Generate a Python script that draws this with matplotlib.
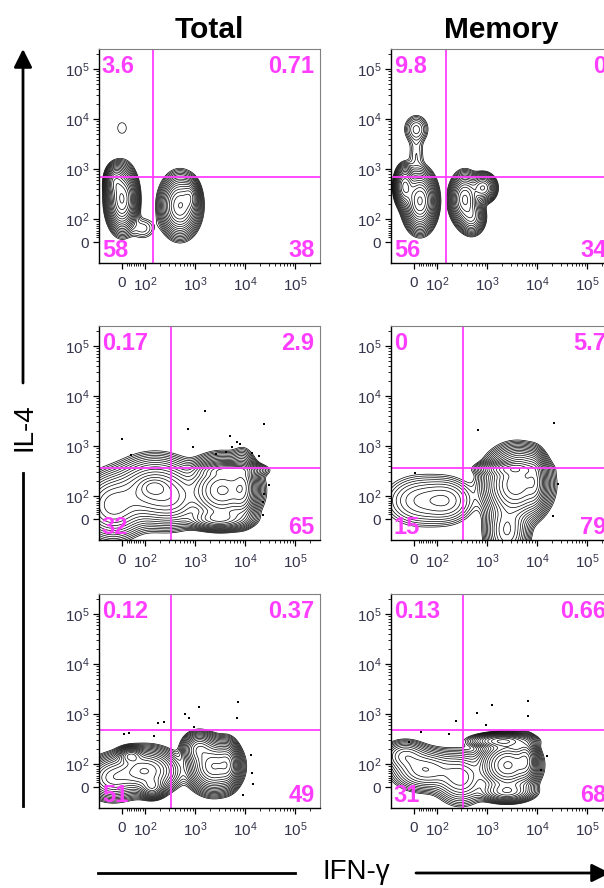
import matplotlib

matplotlib.use("Agg")

import matplotlib.pyplot as plt
import numpy as np
from matplotlib.lines import Line2D
from matplotlib.patches import FancyArrowPatch
from matplotlib.ticker import FixedFormatter, FixedLocator

plt.rcParams["font.family"] = ["Liberation Sans", "DejaVu Sans"]
plt.rcParams["mathtext.fontset"] = "custom"
plt.rcParams["mathtext.rm"] = "Liberation Sans"
plt.rcParams["mathtext.it"] = "Liberation Sans:italic"
plt.rcParams["mathtext.bf"] = "Liberation Sans:bold"

COLUMN_TITLES = ["Total", "Memory"]
X_LABEL = "IFN-γ"
Y_LABEL = "IL-4"
TICK_VALUES = [0, 1e2, 1e3, 1e4, 1e5]
TICK_LABELS = ["0", "$10^2$", "$10^3$", "$10^4$", "$10^5$"]

# quadrant frequencies, order: upper-left, upper-right, lower-left, lower-right
QUADRANTS = [
    [["3.6", "0.71", "58", "38"], ["9.8", "0", "56", "34"]],
    [["0.17", "2.9", "32", "65"], ["0", "5.7", "15", "79"]],
    [["0.12", "0.37", "51", "49"], ["0.13", "0.66", "31", "68"]],
]

# quadrant gate (IFN-g cut, IL-4 cut)
GATES = [
    [(145, 690), (150, 690)],
    [(330, 370), (330, 370)],
    [(330, 480), (330, 480)],
]

# populations: (IFN-g centre, IL-4 centre, spread x, spread y (decades), corr, peak height)
POPULATIONS = [
    [
        [(0, 250, 0.13, 0.27, 0.0, 1.0), (-30, 560, 0.09, 0.15, 0.0, 0.4),
         (500, 185, 0.17, 0.26, 0.0, 0.75), (800, 280, 0.08, 0.15, 0.0, 0.3),
         (90, 60, 0.16, 0.14, 0.0, 0.03), (0, 6600, 0.13, 0.16, 0.0, 0.015)],
        [(26, 230, 0.14, 0.25, 0.0, 1.0), (-40, 450, 0.09, 0.18, 0.0, 0.6),
         (360, 250, 0.13, 0.22, 0.0, 0.6), (830, 420, 0.12, 0.13, 0.0, 0.35),
         (500, 110, 0.12, 0.16, 0.0, 0.25), (10, 6300, 0.13, 0.15, 0.0, 0.06),
         (10, 2000, 0.10, 0.25, 0.0, 0.025)],
    ],
    [
        [(160, 125, 0.38, 0.30, 0.0, 0.45), (150, 150, 0.15, 0.10, 0.0, 0.25),
         (-40, 60, 0.30, 0.30, 0.0, 0.3), (3500, 130, 0.30, 0.27, 0.0, 1.0),
         (9000, 150, 0.12, 0.28, 0.0, 0.55), (5000, 330, 0.30, 0.07, 0.0, 0.35),
         (3000, 0, 0.30, 0.10, 0.0, 0.3), (400, 80, 0.25, 0.25, 0.0, 0.15)],
        [(25, 80, 0.38, 0.27, 0.0, 0.08), (166, 80, 0.28, 0.24, 0.0, 0.08),
         (3800, 170, 0.28, 0.30, 0.0, 1.0), (3000, 350, 0.28, 0.07, 0.0, 0.45),
         (9000, 200, 0.10, 0.25, 0.0, 0.4), (2500, -50, 0.20, 0.30, 0.0, 0.3),
         (5000, 450, 0.18, 0.15, 0.0, 0.15)],
    ],
    [
        [(100, 70, 0.30, 0.20, 0.0, 0.6), (38, 145, 0.12, 0.08, 0.0, 0.4),
         (-40, 40, 0.25, 0.20, 0.0, 0.3), (140, 0, 0.12, 0.10, 0.0, 0.35),
         (2400, 90, 0.22, 0.22, 0.0, 1.0), (4500, 100, 0.10, 0.20, 0.0, 0.5),
         (1200, 200, 0.15, 0.15, 0.0, 0.4)],
        [(2600, 95, 0.25, 0.22, 0.0, 1.0), (2000, 290, 0.28, 0.07, 0.0, 0.4),
         (6000, 120, 0.10, 0.20, 0.0, 0.5), (2500, -20, 0.25, 0.10, 0.0, 0.3),
         (50, 75, 0.32, 0.20, 0.0, 0.2), (-40, 150, 0.22, 0.15, 0.0, 0.12),
         (300, 40, 0.25, 0.25, 0.0, 0.18)],
    ],
]

# single events outside the contours
DOTS_X = [
    [[], []],
    [[0, 40, 1600, 740, 900, 4900, 7000, 8100, 5600, 4100, 2600, 14000, 24000, 19000,
      30000, 24000, 23000, 23000],
     [660, 22000, 3, 26000, 21000]],
    [[180, 240, 1200, 630, 760, 950, 7200, 7000, 9, 30, 150, 13000, 14000, 14500, 9100],
     [235, 620, 1230, 6700, 6500, 940, 30, 170, 16000, 12000, -20]],
]
DOTS_Y = [
    [[], []],
    [[1400, 660, 5100, 2150, 970, 1600, 1200, 1100, 940, 750, 700, 740, 2800, 630,
      170, 110, 75, 17],
     [2100, 2900, 290, 175, 15]],
    [[670, 680, 1400, 1000, 850, 550, 1750, 850, 400, 410, 360, 155, 62, 13, -35],
     [740, 1070, 1500, 1800, 920, 600, 430, 400, 145, 75, 280]],
]

LIN_T = 100.0
LIN_SPAN = 0.46
GATE_COLOR = "#ff3dff"


def to_u(v):
    v = np.asarray(v, dtype=float)
    a = np.abs(v)
    return np.where(a <= LIN_T, v / LIN_T * LIN_SPAN,
                    np.sign(v) * (LIN_SPAN + np.log10(np.maximum(a, LIN_T) / LIN_T)))


def from_u(u):
    u = np.asarray(u, dtype=float)
    a = np.abs(u)
    return np.where(a <= LIN_SPAN, u / LIN_SPAN * LIN_T,
                    np.sign(u) * LIN_T * 10 ** (np.maximum(a, LIN_SPAN) - LIN_SPAN))


def density(pops, uu, vv):
    z = np.zeros_like(uu)
    for x, y, sx, sy, rho, amp in pops:
        dx = (uu - to_u(x)) / sx
        dy = (vv - to_u(y)) / sy
        q = (dx * dx - 2 * rho * dx * dy + dy * dy) / (1 - rho * rho)
        z += amp * np.exp(-0.5 * q)
    return z


W, H = 604, 888
fig = plt.figure(figsize=(W / 100, H / 100), dpi=100)


def fx(px):
    return px / W


def fy(py):
    return 1 - py / H


col_left = [99, 391]
row_top = [49, 326, 594]
pw, ph = 221, 214

grid_u = np.linspace(-0.7, 4.1, 420)
UU, VV = np.meshgrid(grid_u, grid_u)
XX, YY = from_u(UU), from_u(VV)

minor = [k * 10 ** d for d in range(1, 5) for k in range(2, 10)] + [2e5]

for r in range(3):
    for c in range(2):
        ax = fig.add_axes([fx(col_left[c]), fy(row_top[r] + ph), pw / W, ph / H])
        for setscale in (ax.set_xscale, ax.set_yscale):
            setscale("symlog", linthresh=LIN_T, linscale=LIN_SPAN * 0.9)
        ax.set_xlim(-100, 3.16e5)
        ax.set_ylim(-91, 2.5e5)

        z = density(POPULATIONS[r][c], UU, VV)
        levels = z.max() * np.geomspace(0.012, 0.95, 18)
        ax.contour(XX, YY, z, levels=levels, colors="black", linewidths=0.5)
        if DOTS_X[r][c]:
            ax.scatter(DOTS_X[r][c], DOTS_Y[r][c], s=4, c="black", marker="s", lw=0)

        gx, gy = GATES[r][c]
        ax.axvline(gx, color=GATE_COLOR, lw=1.3)
        ax.axhline(gy, color=GATE_COLOR, lw=1.3)

        ul, ur, ll, lr = QUADRANTS[r][c]
        kw = dict(color=GATE_COLOR, fontsize=17, fontweight="bold", xycoords="axes fraction",
                  textcoords="offset points")
        ax.annotate(ul, (0, 1), xytext=(2, -4), ha="left", va="top", **kw)
        ax.annotate(ur, (1, 1), xytext=(-4, -4), ha="right", va="top", **kw)
        ax.annotate(ll, (0, 0), xytext=(2, 1), ha="left", va="bottom", **kw)
        ax.annotate(lr, (1, 0), xytext=(-4, 1), ha="right", va="bottom", **kw)

        for axis in (ax.xaxis, ax.yaxis):
            axis.set_major_locator(FixedLocator(TICK_VALUES))
            axis.set_major_formatter(FixedFormatter(TICK_LABELS))
            axis.set_minor_locator(FixedLocator(minor))
        ax.tick_params(which="major", length=4, width=0.9, labelsize=11,
                       labelcolor="#33334a", pad=3)
        ax.tick_params(which="minor", length=2, width=0.6)
        ax.tick_params(axis="x", which="major", pad=5)
        for side in ("top", "right"):
            ax.spines[side].set_color("#808080")
            ax.spines[side].set_linewidth(0.8)
        for side in ("left", "bottom"):
            ax.spines[side].set_linewidth(1.0)

        if r == 0:
            ax.set_title(COLUMN_TITLES[c], fontsize=21.5, fontweight="bold", pad=8)

# axis arrows
arrow_kw = dict(arrowstyle="-|>,head_length=1.0,head_width=0.5", mutation_scale=11,
                color="black", lw=2, transform=fig.transFigure, shrinkA=0, shrinkB=0)
fig.add_artist(Line2D([fx(23), fx(23)], [fy(806), fy(473)], color="black", lw=2))
fig.add_artist(FancyArrowPatch((fx(23), fy(383)), (fx(23), fy(49)), **arrow_kw))
fig.text(fx(24), fy(427), Y_LABEL, rotation=90, ha="center", va="center", fontsize=20)

fig.add_artist(Line2D([fx(98), fx(295)], [fy(873), fy(873)], color="black", lw=2))
fig.add_artist(FancyArrowPatch((fx(416), fy(873)), (fx(610), fy(873)), **arrow_kw))
fig.text(fx(356), fy(879), X_LABEL, ha="center", va="baseline", fontsize=20)

fig.savefig("out.png", dpi=100)
plt.close(fig)
